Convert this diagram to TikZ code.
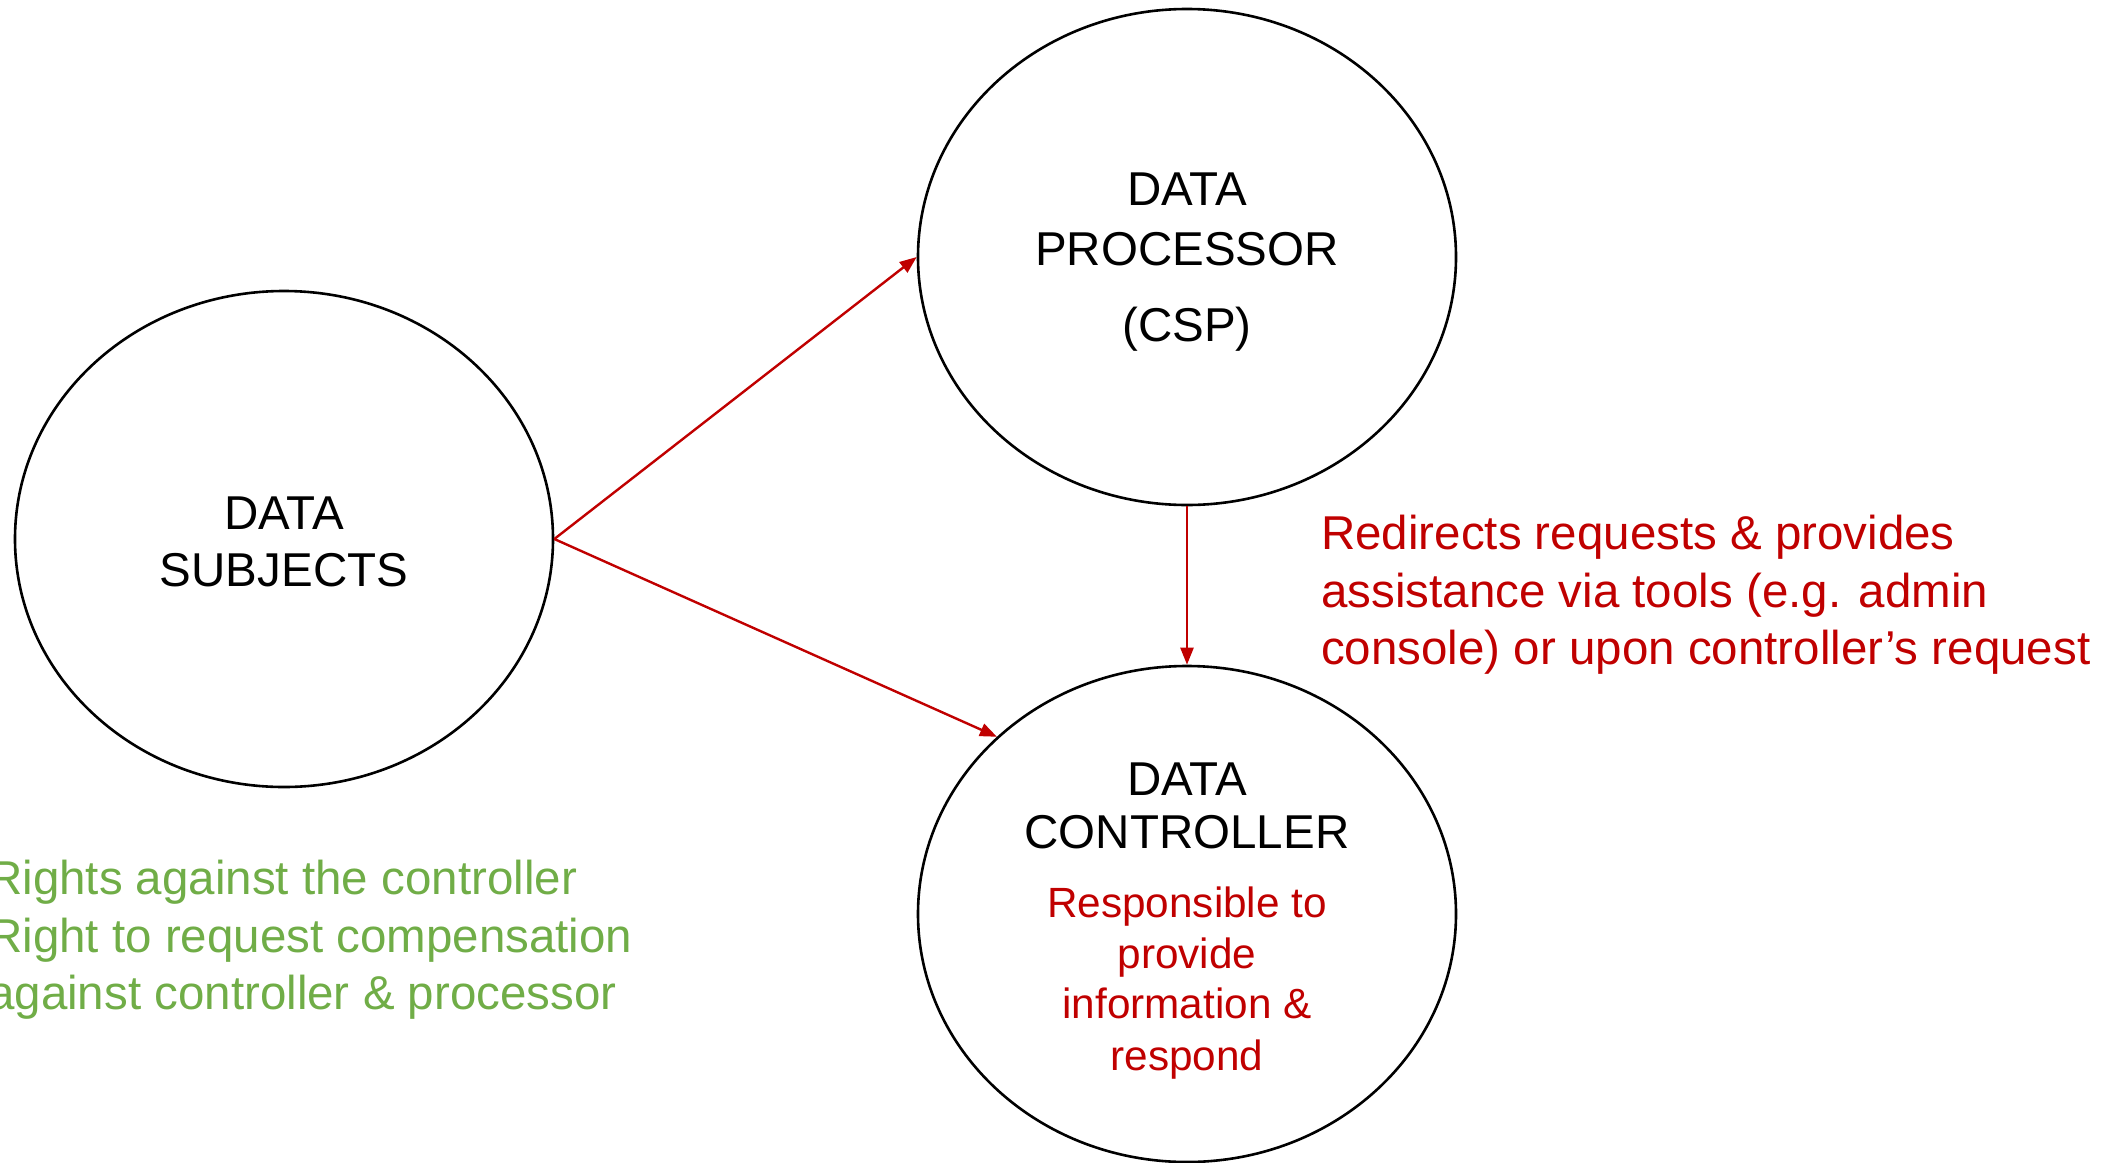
\documentclass[tikz,border=0pt]{standalone}
\usepackage{fontspec}
\setmainfont{Liberation Sans}
\usetikzlibrary{shapes.geometric,arrows.meta}
\definecolor{dred}{HTML}{C00000}
\definecolor{lgreen}{HTML}{70AD47}
\begin{document}
\begin{tikzpicture}[x=1pt,y=-1pt,
  party/.style={ellipse,draw=black,line width=2.6pt,minimum width=538pt,minimum height=496pt,inner sep=0pt},
  big/.style={font=\fontsize{47.5}{57}\selectfont,inner sep=0pt,anchor=base},
  small/.style={font=\fontsize{42.3}{50}\selectfont,inner sep=0pt,anchor=base,text=dred},
  note/.style={font=\fontsize{47.5}{57}\selectfont,inner sep=0pt,anchor=base west,text=dred},
  rights/.style={font=\fontsize{47.5}{57}\selectfont,inner sep=0pt,anchor=base west,text=lgreen},
  flow/.style={draw=dred,line width=2.4pt,-{Triangle[length=17pt,width=13pt]}}
]
\useasboundingbox (0,0) rectangle (2123,1162);
\node[party] (subj) at (284,539) {};
\node[party] (proc) at (1187,257) {};
\node[party] (ctrl) at (1187,914) {};

\node[big] (s1) at (284,529) {DATA};
\node[big] (s2) at (284,586) {SUBJECTS};

\node[big] (p1) at (1187,205) {DATA};
\node[big] (p2) at (1187,265) {PROCESSOR};
\node[big] (p3) at (1187,341) {(CSP)};

\node[big] (c1) at (1187,795) {DATA};
\node[big] (c2) at (1187,848) {CONTROLLER};
\node[small] (c3) at (1187,917) {Responsible to};
\node[small] (c4) at (1187,968) {provide};
\node[small] (c5) at (1187,1018) {information \&};
\node[small] (c6) at (1187,1070) {respond};

\node[note] (n1) at (1321,549) {Redirects requests \& provides};
\node[note] (n2) at (1321,607) {assistance via tools (e.g. admin};
\node[note] (n3) at (1321,664) {console) or upon controller’s request};

\node[rights] (g1) at (-12,894) {Rights against the controller};
\node[rights] (g2) at (-12,952) {Right to request compensation};
\node[rights] (g3) at (-12,1009) {against controller \& processor};

\draw[flow] (subj.east) -- (proc.west);
\draw[flow] (subj.east) -- (ctrl.137);
\draw[flow] (proc.south) -- (ctrl.north);
\end{tikzpicture}
\end{document}
